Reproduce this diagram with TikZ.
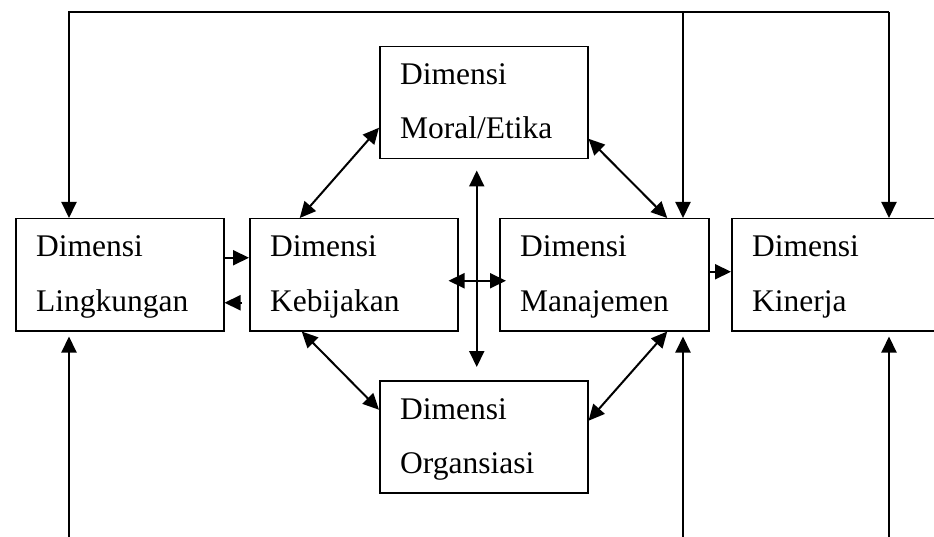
\documentclass[tikz,border=0pt]{standalone}
\usepackage{fontspec}
\setmainfont{Liberation Serif}
\usetikzlibrary{arrows.meta}
\tikzset{
  box/.style={draw, line width=1.5pt, anchor=north west, inner sep=0pt, minimum width=208pt, minimum height=112pt},
  lbl/.style={anchor=base west, inner sep=0pt, font=\fontsize{31.5}{38}\selectfont},
  tip/.style={},
  arr/.style={line width=2pt, line join=miter, -{Triangle[length=16pt,width=15pt]}},
  darr/.style={line width=2pt, {Triangle[length=16pt,width=15pt]}-{Triangle[length=16pt,width=15pt]}}
}
\newcommand{\dimbox}[5]{%
  \node[box, #5] (#1) at (#2) {};
  \node[lbl] (#1a) at ([xshift=21pt,yshift=-39pt]#1.north west) {#3};
  \node[lbl] (#1b) at ([xshift=21pt,yshift=-93pt]#1.north west) {#4};
}
\begin{document}
\begin{tikzpicture}[x=1pt,y=-1pt]
\useasboundingbox (0,0) rectangle (934,537);
\clip (0,0) rectangle (934,537);
\fill[white] (0,0) rectangle (934,537);
\dimbox{ling}{15,218}{Dimensi}{Lingkungan}{}
\dimbox{keb}{249,218}{Dimensi}{Kebijakan}{}
\dimbox{man}{499,218}{Dimensi}{Manajemen}{minimum width=209pt}
\dimbox{kin}{731,218}{Dimensi}{Kinerja}{minimum width=240pt}
\dimbox{mor}{379,46}{Dimensi}{Moral/Etika}{}
\dimbox{org}{379,380}{Dimensi}{Organsiasi}{}
% top feedback lines
\coordinate (tl) at (69,12);
\coordinate (tm) at (683,12);
\coordinate (tr) at (889,12);
\draw[arr] (tr) -- (tl) -- (tl |- ling.north);
\draw[arr] (tr) -- (tr |- kin.north);
\draw[arr] (tm) -- (tm |- man.north);
% bottom inputs
\coordinate (bl) at (69,545);
\coordinate (bm) at (683,545);
\coordinate (br) at (889,545);
\draw[arr, shorten >=5pt] (bl) -- (bl |- ling.south);
\draw[arr, shorten >=5pt] (bm) -- (bm |- man.south);
\draw[arr, shorten >=5pt] (br) -- (br |- kin.south);
% horizontal connectors
\draw[arr] ([yshift=17pt]ling.east) -- ([yshift=17pt]keb.west);
\draw[arr, shorten <=7pt] ([yshift=-28pt]keb.west) -- ([yshift=-28pt]ling.east);
\draw[darr, shorten <=-10pt, shorten >=-7pt] ([yshift=-6pt]keb.east) -- ([yshift=-6pt]man.west);
\draw[arr] ([yshift=3pt]man.east) -- ([yshift=3pt]kin.west);
% vertical double arrow
\draw[darr, shorten <=11pt, shorten >=13pt] ([xshift=-7pt]mor.south) -- ([xshift=-7pt]org.north);
% diagonals
\draw[darr] ([yshift=-25pt]mor.west) -- ([xshift=-54pt]keb.north);
\draw[darr] ([yshift=-36pt]mor.east) -- ([xshift=63pt]man.north);
\draw[darr] ([xshift=-52pt]keb.south) -- ([yshift=27pt]org.west);
\draw[darr] ([xshift=63pt]man.south) -- ([yshift=16pt]org.east);
\end{tikzpicture}
\end{document}
